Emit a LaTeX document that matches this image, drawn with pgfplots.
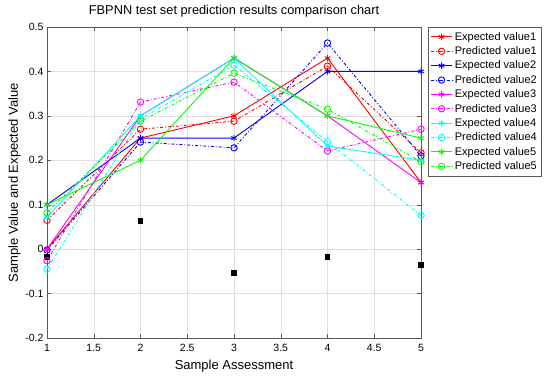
\documentclass[border=0pt]{standalone}
\usepackage{pgfplots}
\pgfplotsset{compat=1.18}
\usepackage{fontspec}
\setmainfont{Liberation Sans}
\definecolor{mmag}{RGB}{255,0,255}
\definecolor{mcyan}{RGB}{0,255,255}
\definecolor{mgreen}{RGB}{0,255,0}
\definecolor{mred}{RGB}{255,0,0}
\definecolor{mblue}{RGB}{0,0,255}
\begin{document}
\begin{tikzpicture}[x=1pt,y=1pt]
\useasboundingbox (-47,-46) rectangle (503,338);
\begin{axis}[
  scale only axis, width=374pt, height=311pt,
  xmin=1, xmax=5, ymin=-0.2, ymax=0.5,
  xtick={1,1.5,...,5}, ytick={-0.2,-0.1,...,0.5},
  /pgf/number format/assume math mode=true,
  yticklabel style={/pgf/number format/fixed, /pgf/number format/precision=1},
  xticklabel style={/pgf/number format/fixed, yshift=-3pt},
  tick label style={font=\fontsize{10.5}{12}\selectfont},
  grid=major, grid style={gray!25},
  axis line style={gray!70!black},
  tick style={gray!70!black, major tick length=4pt},
  xtick pos=both, ytick pos=both,
  title={FBPNN test set prediction results comparison chart},
  title style={font=\fontsize{12.8}{14}\selectfont, yshift=0pt},
  xlabel={Sample Assessment}, ylabel={Sample Value and Expected Value},
  label style={font=\fontsize{13}{15}\selectfont},
  xlabel style={yshift=-1pt},
  ylabel style={yshift=-2pt},
  legend style={at={(1.019,1)}, anchor=north west, font=\fontsize{11}{12}\selectfont,
    draw=gray!70!black, row sep=0.9pt, inner xsep=2pt, inner ysep=3pt},
  legend cell align=left,
  legend image code/.code={\draw[mark repeat=2,mark phase=2] plot coordinates {(0cm,0cm) (0.38cm,0cm) (0.76cm,0cm)};},
  every axis plot/.append style={line width=0.9pt, mark size=3.2pt},
]
\addplot[only marks, mark=square*, mark size=2.4pt, black, forget plot] coordinates {(1,-0.018) (2,0.063) (3,-0.053) (4,-0.017) (5,-0.035)};
\addplot[mred, solid, mark=asterisk] coordinates {(1,0.0) (2,0.25) (3,0.30) (4,0.43) (5,0.15)};
\addlegendentry{Expected value1}
\addplot[mred, dash dot, mark=o, mark options={solid}] coordinates {(1,0.065) (2,0.27) (3,0.288) (4,0.412) (5,0.217)};
\addlegendentry{Predicted value1}
\addplot[mblue, solid, mark=asterisk] coordinates {(1,0.1) (2,0.25) (3,0.25) (4,0.40) (5,0.40)};
\addlegendentry{Expected value2}
\addplot[mblue, dash dot, mark=o, mark options={solid}] coordinates {(1,-0.002) (2,0.241) (3,0.228) (4,0.464) (5,0.21)};
\addlegendentry{Predicted value2}
\addplot[mmag, solid, mark=asterisk] coordinates {(1,0.0) (2,0.30) (3,0.43) (4,0.30) (5,0.15)};
\addlegendentry{Expected value3}
\addplot[mmag, dash dot, mark=o, mark options={solid}] coordinates {(1,-0.026) (2,0.331) (3,0.376) (4,0.221) (5,0.27)};
\addlegendentry{Predicted value3}
\addplot[mcyan, solid, mark=asterisk] coordinates {(1,0.072) (2,0.30) (3,0.43) (4,0.232) (5,0.20)};
\addlegendentry{Expected value4}
\addplot[mcyan, dash dot, mark=o, mark options={solid}] coordinates {(1,-0.045) (2,0.293) (3,0.414) (4,0.242) (5,0.076)};
\addlegendentry{Predicted value4}
\addplot[mgreen, solid, mark=asterisk] coordinates {(1,0.10) (2,0.20) (3,0.43) (4,0.30) (5,0.25)};
\addlegendentry{Expected value5}
\addplot[mgreen, dash dot, mark=o, mark options={solid}] coordinates {(1,0.082) (2,0.288) (3,0.396) (4,0.315) (5,0.197)};
\addlegendentry{Predicted value5}
\end{axis}
\end{tikzpicture}
\end{document}
